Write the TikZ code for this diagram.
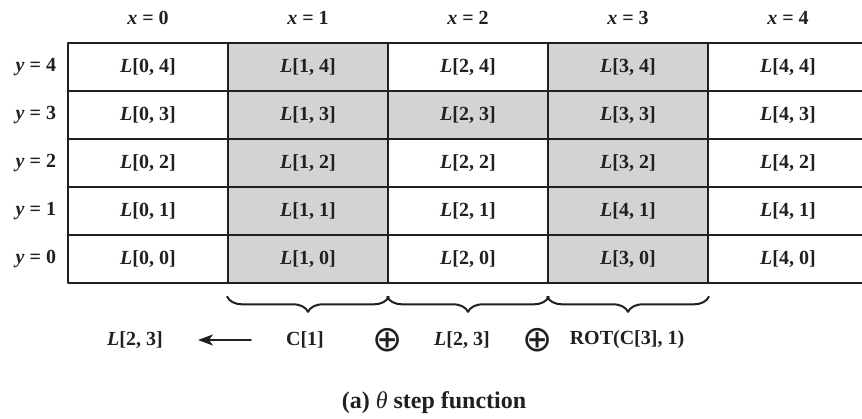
\documentclass[tikz,border=0pt]{standalone}
\usepackage{fontspec}
\setmainfont{Liberation Serif}
\newfontfamily\symfont{DejaVu Sans}
\usepackage{tikz}
\usetikzlibrary{arrows.meta,positioning,decorations.pathreplacing}
\definecolor{ink}{HTML}{231F20}
\definecolor{shade}{HTML}{D1D3D4}
\tikzset{
    every picture/.style={line cap=round,line join=round},
    lanecell/.style={draw=ink,line width=1.6pt,minimum width=160pt,
      minimum height=48pt,inner sep=0pt,text=ink,
      font=\fontsize{20}{24}\selectfont\bfseries},
    axislabel/.style={inner sep=1pt,text=ink,
      font=\fontsize{20}{24}\selectfont\bfseries},
    termlabel/.style={inner sep=1pt,text=ink,
      font=\fontsize{20}{24}\selectfont\bfseries},
    xorsign/.style={inner sep=0pt,text=ink,
      font=\fontsize{36}{40}\symfont},
    colbrace/.style={decorate,decoration={brace,amplitude=15pt,raise=13pt},
      draw=ink,line width=2pt},
    flowarrow/.style={-{Stealth[length=15pt,width=11pt,inset=4pt]},draw=ink,
      line width=2pt}
}
\begin{document}
\begin{tikzpicture}[x=1pt,y=-1pt]
    \useasboundingbox (0,0) rectangle (862,419);
    % state array
    \foreach \x in {0,...,4}
      \foreach \y in {0,...,4}{
        \def\tone{white}\ifodd\x\def\tone{shade}\fi
        \ifnum\x\y=23 \def\tone{shade}\fi
        \def\lbl{\x}\ifnum\x\y=31 \def\lbl{4}\fi
        \node[lanecell,fill=\tone] (c\x\y) at ({148+160*\x},{67+48*(4-\y)})
          {\textit{L}[\lbl, \y]};
      }
    \foreach \x in {0,...,4}
        \node[axislabel] (hx\x) at (c\x4 |- 0,18) {\textit{x} = \x};
    \foreach \y in {0,...,4}
        \node[axislabel,left=10pt of c0\y] (hy\y) {\textit{y} = \y};
    % column sums
    \foreach \x in {1,2,3}
        \draw[colbrace] (c\x0.south east) -- (c\x0.south west);
    \node[termlabel] (lhs) at (135,340) {\textit{L}[2, 3]};
    \node[termlabel] (csum) at (305,340) {C[1]};
    \node[xorsign] (xora) at (388,340) {⊕};
    \node[termlabel] (lane) at (462,340) {\textit{L}[2, 3]};
    \node[xorsign] (xorb) at (538,340) {⊕};
    \node[termlabel] (rot) at (627,340) {ROT(C[3], 1)};
    \draw[flowarrow,shorten <=34pt,shorten >=34pt] (csum) -- (lhs);
    \node[text=ink,font=\fontsize{24}{28}\selectfont\bfseries] (caption)
      at (434,403) {(a) {\normalfont\itshape θ} step function};
\end{tikzpicture}
\end{document}
